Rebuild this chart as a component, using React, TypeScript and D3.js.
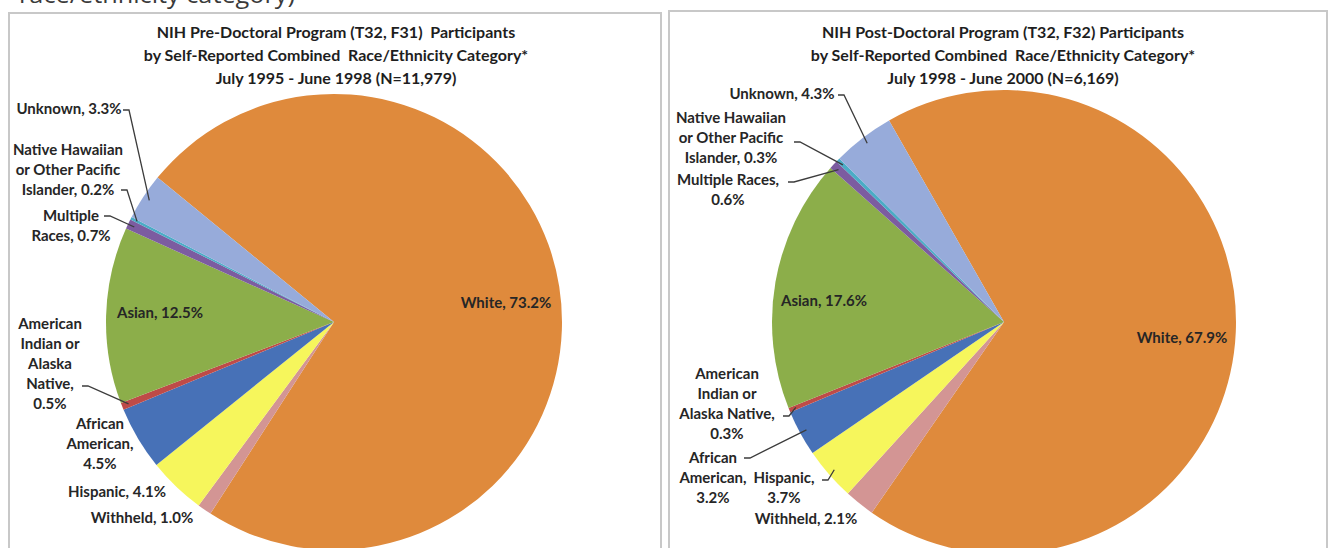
import * as d3 from "d3";
import { useRef, useEffect } from "react";

// categories in the order they sit clockwise on both pies
const categories = [
    "White",
    "Withheld",
    "Hispanic",
    "African American",
    "American Indian or Alaska Native",
    "Asian",
    "Multiple Races",
    "Native Hawaiian or Other Pacific Islander",
    "Unknown",
];

const preDocValues = [73.2, 1.0, 4.1, 4.5, 0.5, 12.5, 0.7, 0.2, 3.3];
const postDocValues = [67.9, 2.1, 3.7, 3.2, 0.3, 17.6, 0.6, 0.3, 4.3];

const sliceColors = ["#DF8A3C", "#D39594", "#F6F65C", "#4771B7", "#BE4B48", "#8CAE4A", "#7C5CA0", "#4BACC6", "#97ABDA"];

const preTitle = [
    "NIH Pre-Doctoral Program (T32, F31)  Participants",
    "by Self-Reported Combined  Race/Ethnicity Category*",
    "July 1995 - June 1998 (N=11,979)",
];
const postTitle = [
    "NIH Post-Doctoral Program (T32, F32) Participants",
    "by Self-Reported Combined  Race/Ethnicity Category*",
    "July 1998 - June 2000 (N=6,169)",
];

const preLabels = [
    ["White, 73.2%"],
    ["Withheld, 1.0%"],
    ["Hispanic, 4.1%"],
    ["African", "American,", "4.5%"],
    ["American", "Indian or", "Alaska", "Native,", "0.5%"],
    ["Asian, 12.5%"],
    ["Multiple", "Races, 0.7%"],
    ["Native Hawaiian", "or Other Pacific", "Islander, 0.2%"],
    ["Unknown, 3.3%"],
];
const postLabels = [
    ["White, 67.9%"],
    ["Withheld, 2.1%"],
    ["Hispanic,", "3.7%"],
    ["African", "American,", "3.2%"],
    ["American", "Indian or", "Alaska Native,", "0.3%"],
    ["Asian, 17.6%"],
    ["Multiple Races,", "0.6%"],
    ["Native Hawaiian", "or Other Pacific", "Islander, 0.3%"],
    ["Unknown, 4.3%"],
];

// label placement: text block center x, first line y, optional leader start
const preLayout = [
    { x: 506, y: 302 },
    { x: 142, y: 517 },
    { x: 117, y: 491 },
    { x: 100, y: 423 },
    { x: 50, y: 323, lead: [82, 386] },
    { x: 160, y: 312 },
    { x: 71, y: 215, lead: [104, 216] },
    { x: 68, y: 149, lead: [121, 190] },
    { x: 69, y: 108, lead: [123, 110] },
];
const postLayout = [
    { x: 1182, y: 337 },
    { x: 806, y: 518 },
    { x: 784, y: 477, lead: [822, 480] },
    { x: 713, y: 457, lead: [744, 458] },
    { x: 727, y: 373, lead: [783, 416] },
    { x: 824, y: 300 },
    { x: 728, y: 179, lead: [788, 182] },
    { x: 731, y: 117, lead: [794, 142] },
    { x: 782, y: 93, lead: [838, 95] },
];

const charts = [
    { title: preTitle, values: preDocValues, labels: preLabels, layout: preLayout,
      cx: 334, cy: 322, r: 228, start: -50.7, panel: { x: 9, y: 13, w: 652 }, titleX: 336 },
    { title: postTitle, values: postDocValues, labels: postLabels, layout: postLayout,
      cx: 1004, cy: 322, r: 232, start: -29.7, panel: { x: 669, y: 11, w: 658 }, titleX: 1003 },
];

const W = 1329, H = 548;
const FONT = "Lato, 'Open Sans', sans-serif";

const App = () => {
    const chartRef = useRef(null);

    useEffect(() => {
        const svg = d3.select(chartRef.current);
        svg.selectAll('*').remove();

        svg.append('rect').attr('width', W).attr('height', H).attr('fill', '#fff');

        // cut-off caption from the page above
        svg.append('text')
           .attr('x', 19).attr('y', 3)
           .attr('textLength', 276)
           .attr('lengthAdjust', 'spacingAndGlyphs')
           .style('font-family', "'Open Sans', sans-serif").style('font-size', '24px')
           .attr('fill', '#3a3a3a')
           .text('race/ethnicity category)');

        charts.forEach(c => {
            const g = svg.append('g');

            g.append('rect')
             .attr('x', c.panel.x).attr('y', c.panel.y)
             .attr('width', c.panel.w).attr('height', H)
             .attr('fill', '#fff')
             .attr('stroke', '#c8c8c8').attr('stroke-width', 2);

            g.selectAll('.title')
             .data(c.title)
             .enter()
             .append('text')
             .attr('class', 'title')
             .attr('x', c.titleX)
             .attr('y', (d, i) => 31 + i * 23)
             .attr('text-anchor', 'middle')
             .attr('dominant-baseline', 'central')
             .style('white-space', 'pre')
             .style('font-family', FONT).style('font-size', '16px').style('font-weight', 700)
             .attr('fill', '#1e1e1e')
             .text(d => d);

            const start = c.start * Math.PI / 180;
            const pie = d3.pie().sort(null).value(d => d)
                          .startAngle(start).endAngle(start + 2 * Math.PI);
            const arcs = pie(c.values);
            const arc = d3.arc().innerRadius(0).outerRadius(c.r);
            const edge = d3.arc().innerRadius(c.r * 0.97).outerRadius(c.r * 0.97);

            const pg = g.append('g').attr('transform', `translate(${c.cx}, ${c.cy})`);
            pg.selectAll('path')
              .data(arcs)
              .enter()
              .append('path')
              .attr('d', arc)
              .attr('fill', (d, i) => sliceColors[i]);

            // leader lines
            arcs.forEach((a, i) => {
                const lay = c.layout[i];
                if (!lay.lead) return;
                const p = edge.centroid(a);
                const pts = [lay.lead, [lay.lead[0] + 6, lay.lead[1]], [c.cx + p[0], c.cy + p[1]]];
                g.append('path')
                 .attr('d', d3.line()(pts))
                 .attr('fill', 'none')
                 .attr('stroke', '#3c3c3c')
                 .attr('stroke-width', 1.3);
            });

            c.labels.forEach((lines, i) => {
                const lay = c.layout[i];
                const t = g.append('text')
                           .attr('text-anchor', 'middle')
                           .attr('dominant-baseline', 'central')
                           .style('font-family', FONT).style('font-size', '15px').style('font-weight', 700)
                           .attr('fill', '#262626');
                lines.forEach((ln, j) => {
                    t.append('tspan').attr('x', lay.x).attr('y', lay.y + j * 20).text(ln);
                });
            });
        });
    }, []);

    return (
        <svg ref={chartRef} width={W} height={H}
             style={{ position: 'absolute', left: 0, top: 0, display: 'block' }}></svg>
    );
};

export default App;
